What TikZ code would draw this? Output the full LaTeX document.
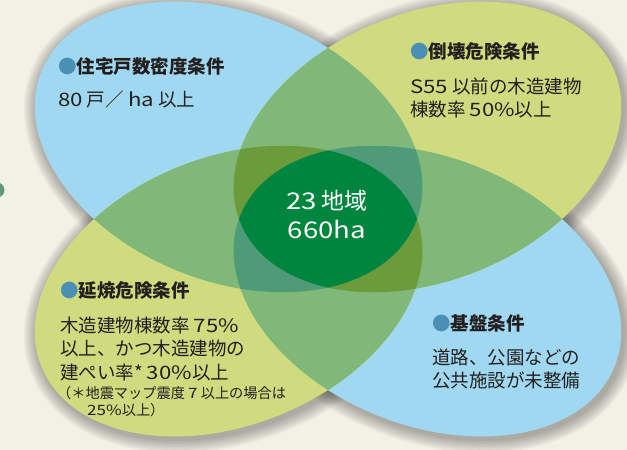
\documentclass[tikz,border=0pt]{standalone}
\usepackage{fontspec}
\setmainfont{Noto Sans CJK JP}
\newfontfamily\widelat[FakeStretch=1.2]{Noto Sans CJK JP}
\newcommand\wl[1]{{\widelat #1}}
\definecolor{bg}{HTML}{F3F1E6}
\definecolor{lblue}{HTML}{A0D8F2}
\definecolor{lyel}{HTML}{D0DA7E}
\definecolor{mgreen}{HTML}{80B87A}
\definecolor{oliv}{HTML}{6B9B3A}
\definecolor{tealg}{HTML}{4F9A77}
\definecolor{dgreen}{HTML}{00853E}
\definecolor{dotblue}{HTML}{4A90B5}
\definecolor{txt}{HTML}{231F1E}
\definecolor{sidedot}{HTML}{5E9A7C}
\newcommand\ovalpath{(0,0) ellipse [x radius=201.8pt, y radius=134pt]}
\newcommand\bigbox{(-400,-300) rectangle (400,300)}
\tikzset{
  eTL/.style={shift={(-99.4,72.1)},rotate=-21.9},
  eTR/.style={shift={(99.4,72.1)},rotate=21.9},
  eBL/.style={shift={(-99.4,-72.1)},rotate=21.9},
  eBR/.style={shift={(99.4,-72.1)},rotate=-21.9},
  ttl/.style={anchor=base west, inner sep=0pt, text=txt, font=\fontsize{18.5}{22}\selectfont\bfseries},
  body/.style={anchor=base west, inner sep=0pt, text=txt, font=\fontsize{18.5}{22}\selectfont},
  note/.style={anchor=base west, inner sep=0pt, text=txt, font=\fontsize{14.2}{17}\selectfont},
  ctr/.style={anchor=base, inner sep=0pt, text=white, font=\fontsize{23}{28}\selectfont},
}
\newcommand\bul{\textcolor{dotblue}{●}}
\begin{document}
\begin{tikzpicture}[x=1pt,y=1pt]
\useasboundingbox (-328,-231) rectangle (299,219);
\fill[bg] (-328,-231) rectangle (299,219);
\clip (-328,-231) rectangle (299,219);
% soft shadows
\foreach \s in {eTL,eTR,eBL,eBR}{
  \foreach \k in {1,...,9}{
    \fill[black,opacity=0.034,xshift=2.5pt,yshift=-3pt,\s]
      (0,0) ellipse [x radius=201.8pt+\k*1.5pt, y radius=134pt+\k*1.5pt];
  }
}
% base petals
\fill[lblue,eTL] \ovalpath;
\fill[lblue,eBR] \ovalpath;
\fill[lyel,eTR] \ovalpath;
\fill[lyel,eBL] \ovalpath;
% two-way overlaps (blue + yellow)
\begin{scope}\clip[eTL] \ovalpath; \clip[eTR] \ovalpath; \fill[mgreen] \bigbox; \end{scope}
\begin{scope}\clip[eTL] \ovalpath; \clip[eBL] \ovalpath; \fill[mgreen] \bigbox; \end{scope}
\begin{scope}\clip[eBR] \ovalpath; \clip[eTR] \ovalpath; \fill[mgreen] \bigbox; \end{scope}
\begin{scope}\clip[eBR] \ovalpath; \clip[eBL] \ovalpath; \fill[mgreen] \bigbox; \end{scope}
% three-way overlaps
\begin{scope}\clip[eTL] \ovalpath; \clip[eTR] \ovalpath; \clip[eBL] \ovalpath; \fill[oliv] \bigbox; \end{scope}
\begin{scope}\clip[eBR] \ovalpath; \clip[eTR] \ovalpath; \clip[eBL] \ovalpath; \fill[oliv] \bigbox; \end{scope}
\begin{scope}\clip[eTL] \ovalpath; \clip[eBR] \ovalpath; \clip[eTR] \ovalpath; \fill[tealg] \bigbox; \end{scope}
\begin{scope}\clip[eTL] \ovalpath; \clip[eBR] \ovalpath; \clip[eBL] \ovalpath; \fill[tealg] \bigbox; \end{scope}
% centre
\begin{scope}\clip[eTL] \ovalpath; \clip[eBR] \ovalpath; \clip[eTR] \ovalpath; \clip[eBL] \ovalpath; \fill[dgreen] \bigbox; \end{scope}
% side dot
\fill[sidedot] (-331,29) circle [radius=7.5pt];
% texts
\node[ttl] (t1) at (-270,145) {\bul 住宅戸数密度条件};
\node[body] (b1) at (-270,112) {\wl{80} 戸／ \wl{ha} 以上};
\node[ttl] (t2) at (82,160) {\bul 倒壊危険条件};
\node[body] (b2a) at (82,125) {\wl{S55} 以前の木造建物};
\node[body] (b2b) at (82,102) {棟数率 \wl{50\%}以上};
\node[ttl] (t3) at (-268,-78) {\bul 延焼危険条件};
\node[body] (b3a) at (-268,-113) {木造建物棟数率 \wl{75\%}};
\node[body] (b3b) at (-268,-136) {以上、かつ木造建物の};
\node[body] (b3c) at (-268,-160) {建ぺい率* \wl{30\%}以上};
\node[note] (n3a) at (-271,-179) {（＊地震マップ震度 \wl{7} 以上の場合は};
\node[note] (n3b) at (-241,-196) {\wl{25\%}以上）};
\node[ttl] (t4) at (104,-111) {\bul 基盤条件};
\node[body] (b4a) at (104,-145) {道路、公園などの};
\node[body] (b4b) at (104,-168) {公共施設が未整備};
\node[ctr] (c1) at (-1,10) {\wl{23} 地域};
\node[ctr] (c2) at (-1,-19) {\wl{660ha}};
\end{tikzpicture}
\end{document}
